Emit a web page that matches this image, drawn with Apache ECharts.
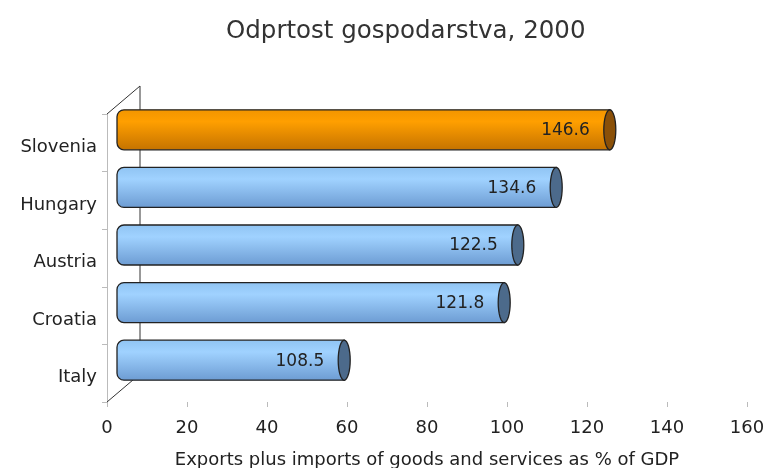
<!DOCTYPE html>
<html>
<head>
<meta charset="utf-8">
<script src="https://cdn.jsdelivr.net/npm/echarts@6/dist/echarts.min.js"></script>
<style>
  html, body { margin: 0; padding: 0; background: #fff; }
  #chart { width: 769px; height: 468px; }
</style>
</head>
<body>
<div id="chart"></div>
<script>
// countries, top to bottom
var countries = ['Slovenia', 'Hungary', 'Austria', 'Croatia', 'Italy']
// bar lengths as drawn on the axis
var barLength = [123.2, 109.8, 100.2, 96.8, 56.8]
// numbers printed inside the bars
var printedValue = ['146.6', '134.6', '122.5', '121.8', '108.5']
var xTicks = { min: 0, max: 160, step: 20 }

var blueFill = new echarts.graphic.LinearGradient(0, 0, 0, 1, [
    { offset: 0, color: '#8fc3f2' },
    { offset: 0.3, color: '#a0d2ff' },
    { offset: 1, color: '#6c9bd2' },
])
var orangeFill = new echarts.graphic.LinearGradient(0, 0, 0, 1, [
    { offset: 0, color: '#f29500' },
    { offset: 0.3, color: '#ff9f00' },
    { offset: 1, color: '#c47200' },
])

var depthX = 33
var depthY = -28

function ellipsePoints(cx, cy, rx, ry) {
    var pts = []
    for (var k = 0; k < 32; k++) {
        var a = (k / 32) * Math.PI * 2
        pts.push([cx + rx * Math.cos(a), cy + ry * Math.sin(a)])
    }
    return pts
}

function renderBar(params, api) {
    var idx = api.value(1)
    var v = api.value(0)
    var p0 = api.coord([0, idx])
    var p1 = api.coord([v, idx])
    var dx = 10
    var dy = -13
    var h = 40
    var x0 = p0[0] + dx
    var x1 = p1[0] + dx
    var yc = p0[1] + dy
    var isSlo = idx === 0
    return {
        type: 'group',
        children: [
            {
                type: 'rect',
                shape: { x: x0, y: yc - h / 2, width: x1 - x0, height: h, r: [7, 0, 0, 7] },
                style: { fill: isSlo ? orangeFill : blueFill, stroke: '#222', lineWidth: 1.3 },
            },
            {
                type: 'polygon',
                shape: { points: ellipsePoints(x1, yc, 6, h / 2) },
                style: { fill: isSlo ? '#8a5008' : '#4c6a8b', stroke: '#222', lineWidth: 1.3 },
            },
            {
                type: 'text',
                style: {
                    text: printedValue[idx],
                    x: x1 - 20,
                    y: yc + 1,
                    align: 'right',
                    verticalAlign: 'middle',
                    font: '17px "DejaVu Sans"',
                    fill: '#222',
                },
            },
        ],
    }
}

function renderFrame(params, api) {
    var cs = params.coordSys
    var left = cs.x
    var top = cs.y
    var bottom = cs.y + cs.height
    var st = { stroke: '#333', lineWidth: 1 }
    return {
        type: 'group',
        children: [
            { type: 'line', shape: { x1: left, y1: top, x2: left + depthX, y2: top + depthY }, style: st },
            { type: 'line', shape: { x1: left + depthX, y1: top + depthY, x2: left + depthX, y2: bottom + depthY }, style: st },
            { type: 'line', shape: { x1: left, y1: bottom, x2: left + depthX, y2: bottom + depthY }, style: st },
        ],
    }
}

var barData = []
for (var i = 0; i < countries.length; i++) {
    barData.push([barLength[i], i])
}

var myChart = echarts.init(document.getElementById('chart'))
var option = {
    animation: false,
    title: {
        text: 'Odprtost gospodarstva, 2000',
        left: 226,
        top: 19,
        padding: 0,
        textStyle: { fontFamily: 'DejaVu Sans', fontSize: 24.5, fontWeight: 'normal', color: '#333' },
    },
    grid: { left: 107, right: 22, top: 114, bottom: 66, outerBoundsMode: 'none', containLabel: false },
    xAxis: {
        type: 'value',
        min: xTicks.min,
        max: xTicks.max,
        interval: xTicks.step,
        name: 'Exports plus imports of goods and services as % of GDP',
        nameLocation: 'middle',
        nameGap: 49,
        nameTextStyle: { fontFamily: 'DejaVu Sans', fontSize: 18, color: '#222' },
        axisLine: { lineStyle: { color: '#bbb' } },
        axisTick: { show: true, length: 5, lineStyle: { color: '#bbb' } },
        axisLabel: { fontFamily: 'DejaVu Sans', fontSize: 18, color: '#222', margin: 17 },
        splitLine: { show: false },
    },
    yAxis: {
        type: 'category',
        inverse: true,
        data: countries,
        axisLine: { lineStyle: { color: '#bbb' } },
        axisTick: { show: true, length: 5, lineStyle: { color: '#bbb' } },
        axisLabel: { fontFamily: 'DejaVu Sans', fontSize: 18, color: '#222', margin: 10, verticalAlign: 'top', lineHeight: 9 },
    },
    series: [
        {
            type: 'custom',
            renderItem: renderFrame,
            data: [[0, 0]],
            z: 1,
            silent: true,
        },
        {
            type: 'custom',
            renderItem: renderBar,
            encode: { x: 0, y: 1 },
            data: barData,
            z: 2,
        },
    ],
}
myChart.setOption(option)
</script>
</body>
</html>
